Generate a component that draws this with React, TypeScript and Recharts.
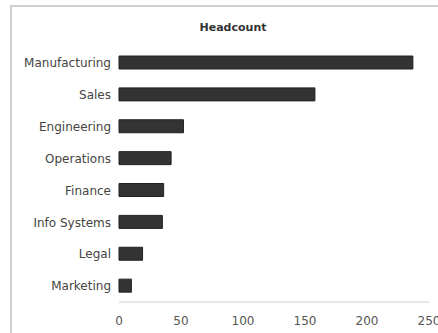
import { BarChart, Bar, XAxis, YAxis } from "recharts";

const departments = [
  "Manufacturing",
  "Sales",
  "Engineering",
  "Operations",
  "Finance",
  "Info Systems",
  "Legal",
  "Marketing",
];
const headcount = [237, 158, 52, 42, 36, 35, 19, 10];
const xTicks = [0, 50, 100, 150, 200, 250];

const data = departments.map((name, i) => ({ name, headcount: headcount[i] }));

const font = "'DejaVu Sans', Verdana, sans-serif";

export default function App() {
  return (
    <div style={{ position: "absolute", left: 0, top: 0, width: 438, height: 333, background: "#fff", overflow: "hidden" }}>
      <div
        style={{
          position: "absolute",
          left: 10,
          top: 5,
          width: 460,
          height: 360,
          borderLeft: "2px solid #cfcfcf",
          borderTop: "2px solid #cfcfcf",
        }}
      />
      <div
        style={{
          position: "absolute",
          left: 0,
          top: 21,
          width: 466,
          textAlign: "center",
          fontFamily: font,
          fontWeight: "bold",
          fontSize: 11,
          color: "#333",
        }}
      >
        Headcount
      </div>
      <div style={{ position: "absolute", left: 0, top: 0 }}>
        <BarChart
          width={438}
          height={333}
          data={data}
          layout="vertical"
          margin={{ top: 47, right: 9, bottom: 1, left: 0 }}
          barCategoryGap="56%"
        >
          <XAxis
            type="number"
            domain={[0, 250]}
            ticks={xTicks}
            height={30}
            axisLine={{ stroke: "#cccccc" }}
            tickLine={false}
            tickMargin={8}
            tick={{ fill: "#555", fontSize: 12, fontFamily: font }}
          />
          <YAxis
            type="category"
            dataKey="name"
            width={119}
            axisLine={false}
            tickLine={false}
            interval={0}
            tick={{ fill: "#444", fontSize: 12, fontFamily: font }}
          />
          <Bar dataKey="headcount" fill="#333333" stroke="#222" strokeWidth={1} barSize={13} isAnimationActive={false} />
        </BarChart>
      </div>
    </div>
  );
}
